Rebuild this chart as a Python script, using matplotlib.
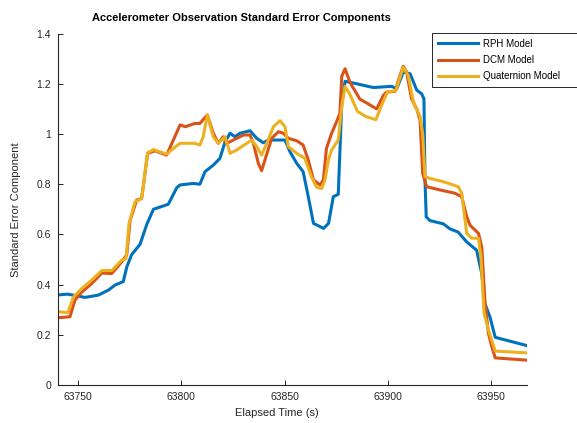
import matplotlib
matplotlib.use('Agg')
import matplotlib.pyplot as plt
from matplotlib.ticker import FormatStrFormatter

plt.rcParams['font.family'] = ['Liberation Sans', 'DejaVu Sans']

# values
rph_t = [63740.5, 63745.0, 63753.4, 63759.8, 63764.7, 63767.9, 63771.9, 63773.6, 63776.0,
         63780.0, 63783.3, 63786.5, 63793.7, 63797.8, 63799.4, 63805.8, 63809.0, 63811.5,
         63815.5, 63818.7, 63821.2, 63823.6, 63826.0, 63828.4, 63833.3, 63836.5, 63839.7,
         63842.1, 63847.8, 63850.2, 63852.6, 63855.9, 63859.0, 63861.5, 63864.0, 63868.9,
         63871.3, 63873.6, 63876.0, 63877.7, 63879.3, 63885.0, 63893.0, 63901.9, 63904.3,
         63907.5, 63910.8, 63914.0, 63916.4, 63917.5, 63918.0, 63918.6, 63920.4, 63926.9,
         63930.1, 63934.1, 63938.2, 63943.0, 63945.5, 63947.0, 63949.5, 63952.0, 63954.3,
         63967.3]
rph_v = [0.359, 0.362, 0.349, 0.358, 0.378, 0.398, 0.412, 0.470, 0.520,
         0.560, 0.640, 0.700, 0.720, 0.786, 0.797, 0.803, 0.800, 0.850,
         0.876, 0.903, 0.969, 1.003, 0.989, 1.003, 1.013, 0.983, 0.965,
         0.976, 0.976, 0.976, 0.930, 0.883, 0.850, 0.750, 0.644, 0.624,
         0.644, 0.750, 0.760, 1.120, 1.210, 1.200, 1.185, 1.190, 1.180,
         1.247, 1.240, 1.175, 1.160, 1.140, 0.816, 0.670, 0.655, 0.642,
         0.622, 0.609, 0.570, 0.537, 0.443, 0.325, 0.270, 0.190, 0.185,
         0.157]

dcm_t = [63740.5, 63746.1, 63748.5, 63751.8, 63756.6, 63761.5, 63766.3, 63771.1, 63773.6,
         63775.2, 63778.4, 63780.8, 63783.7, 63787.3, 63792.9, 63796.1, 63799.4, 63802.0,
         63806.5, 63809.0, 63812.6, 63815.5, 63817.9, 63820.3, 63822.0, 63825.2, 63830.1,
         63833.3, 63834.9, 63837.3, 63838.9, 63841.0, 63843.8, 63847.0, 63849.4, 63851.8,
         63855.9, 63859.0, 63861.5, 63864.0, 63867.2, 63868.8, 63870.3, 63872.8, 63875.2,
         63876.8, 63877.7, 63879.3, 63881.7, 63886.5, 63890.5, 63894.6, 63897.8, 63899.4,
         63903.5, 63905.9, 63907.5, 63909.1, 63911.5, 63914.0, 63915.6, 63916.9, 63918.8,
         63925.3, 63932.5, 63935.8, 63938.2, 63939.8, 63943.9, 63945.5, 63947.1, 63948.7,
         63950.3, 63952.0, 63967.3]
dcm_v = [0.268, 0.272, 0.338, 0.370, 0.404, 0.446, 0.444, 0.490, 0.518,
         0.655, 0.737, 0.743, 0.923, 0.933, 0.916, 0.975, 1.036, 1.029,
         1.042, 1.042, 1.076, 1.003, 0.963, 0.989, 0.963, 0.976, 0.996,
         0.996, 0.963, 0.883, 0.854, 0.910, 0.983, 1.009, 1.003, 0.983,
         0.973, 0.956, 0.896, 0.817, 0.797, 0.817, 0.943, 1.003, 1.049,
         1.082, 1.230, 1.260, 1.205, 1.139, 1.120, 1.100, 1.153, 1.167,
         1.170, 1.233, 1.270, 1.247, 1.140, 1.100, 1.056, 0.843, 0.790,
         0.777, 0.764, 0.750, 0.671, 0.637, 0.604, 0.550, 0.325, 0.207,
         0.154, 0.108, 0.099]

quat_t = [63740.5, 63745.1, 63747.7, 63751.8, 63756.6, 63761.5, 63766.3, 63771.1, 63773.2,
          63774.7, 63777.6, 63780.8, 63783.7, 63786.5, 63792.9, 63796.1, 63799.4, 63806.5,
          63809.0, 63810.6, 63812.6, 63815.5, 63817.9, 63821.2, 63823.6, 63826.8, 63831.7,
          63834.1, 63836.5, 63838.9, 63841.4, 63844.6, 63847.8, 63850.2, 63851.8, 63855.9,
          63859.8, 63863.0, 63865.6, 63868.0, 63869.6, 63871.2, 63872.8, 63876.0, 63877.7,
          63879.3, 63881.7, 63885.3, 63889.3, 63894.2, 63897.8, 63899.8, 63903.9, 63905.9,
          63907.5, 63909.9, 63912.4, 63915.6, 63916.9, 63918.0, 63920.4, 63926.9, 63934.1,
          63935.8, 63938.2, 63940.6, 63943.9, 63945.1, 63946.6, 63948.7, 63952.0, 63967.3]
quat_v = [0.292, 0.288, 0.350, 0.384, 0.418, 0.456, 0.456, 0.497, 0.503,
          0.643, 0.730, 0.743, 0.925, 0.938, 0.920, 0.942, 0.963, 0.963,
          0.956, 0.989, 1.076, 0.989, 0.963, 0.989, 0.923, 0.936, 0.963,
          0.976, 0.950, 0.916, 0.963, 1.029, 1.053, 1.029, 0.950, 0.923,
          0.903, 0.830, 0.787, 0.783, 0.817, 0.896, 0.936, 0.976, 1.109,
          1.190, 1.157, 1.090, 1.070, 1.057, 1.130, 1.167, 1.173, 1.226,
          1.266, 1.233, 1.126, 1.070, 1.000, 0.830, 0.823, 0.810, 0.790,
          0.764, 0.604, 0.585, 0.585, 0.510, 0.286, 0.220, 0.135, 0.128]

labels = ['RPH Model', 'DCM Model', 'Quaternion Model']
colors = ['#0072BD', '#D95319', '#EDB120']

fig = plt.figure(figsize=(5.77, 4.23), dpi=100)
ax = fig.add_axes([58 / 577, 38 / 423, 469 / 577, 351.4 / 423])

ax.plot(rph_t, rph_v, color=colors[0], lw=2.2, label=labels[0])
ax.plot(dcm_t, dcm_v, color=colors[1], lw=2.2, label=labels[1])
ax.plot(quat_t, quat_v, color=colors[2], lw=2.2, label=labels[2])

ax.set_xlim(63740.3, 63967.4)
ax.set_ylim(0, 1.4)
ax.set_xticks([63750, 63800, 63850, 63900, 63950])
ax.set_yticks([0, 0.2, 0.4, 0.6, 0.8, 1.0, 1.2, 1.4])
ax.yaxis.set_major_formatter(FormatStrFormatter('%g'))
ax.tick_params(direction='in', length=3.5, width=0.7, labelsize=7.5,
               colors='#262626', pad=5)
for s in ['top', 'right']:
    ax.spines[s].set_visible(False)
for s in ['left', 'bottom']:
    ax.spines[s].set_color('#262626')
    ax.spines[s].set_linewidth(0.8)

fig.text(241 / 577, 1 - 18 / 423, 'Accelerometer Observation Standard Error Components',
         ha='center', va='center', fontsize=8, fontweight='bold')
fig.text(277 / 577, 1 - 413 / 423, 'Elapsed Time (s)', ha='center', va='center',
         fontsize=8, color='#262626')
fig.text(16 / 577, 1 - 210 / 423, 'Standard Error Component', ha='center', va='center',
         rotation=90, fontsize=8, color='#262626')

# legend box runs off the right edge of the figure, as in the reference
leg = ax.legend(loc='upper left',
                bbox_to_anchor=(432 / 577, 1 - 89 / 423, 150 / 577, 56 / 423),
                bbox_transform=fig.transFigure, mode='expand', fontsize=7,
                frameon=True, fancybox=False, edgecolor='#262626', framealpha=1,
                handlelength=4.1, handletextpad=0.5, labelspacing=0.65,
                borderpad=0.6, borderaxespad=0)
leg.get_frame().set_linewidth(0.7)

fig.savefig('out.png', dpi=100)
